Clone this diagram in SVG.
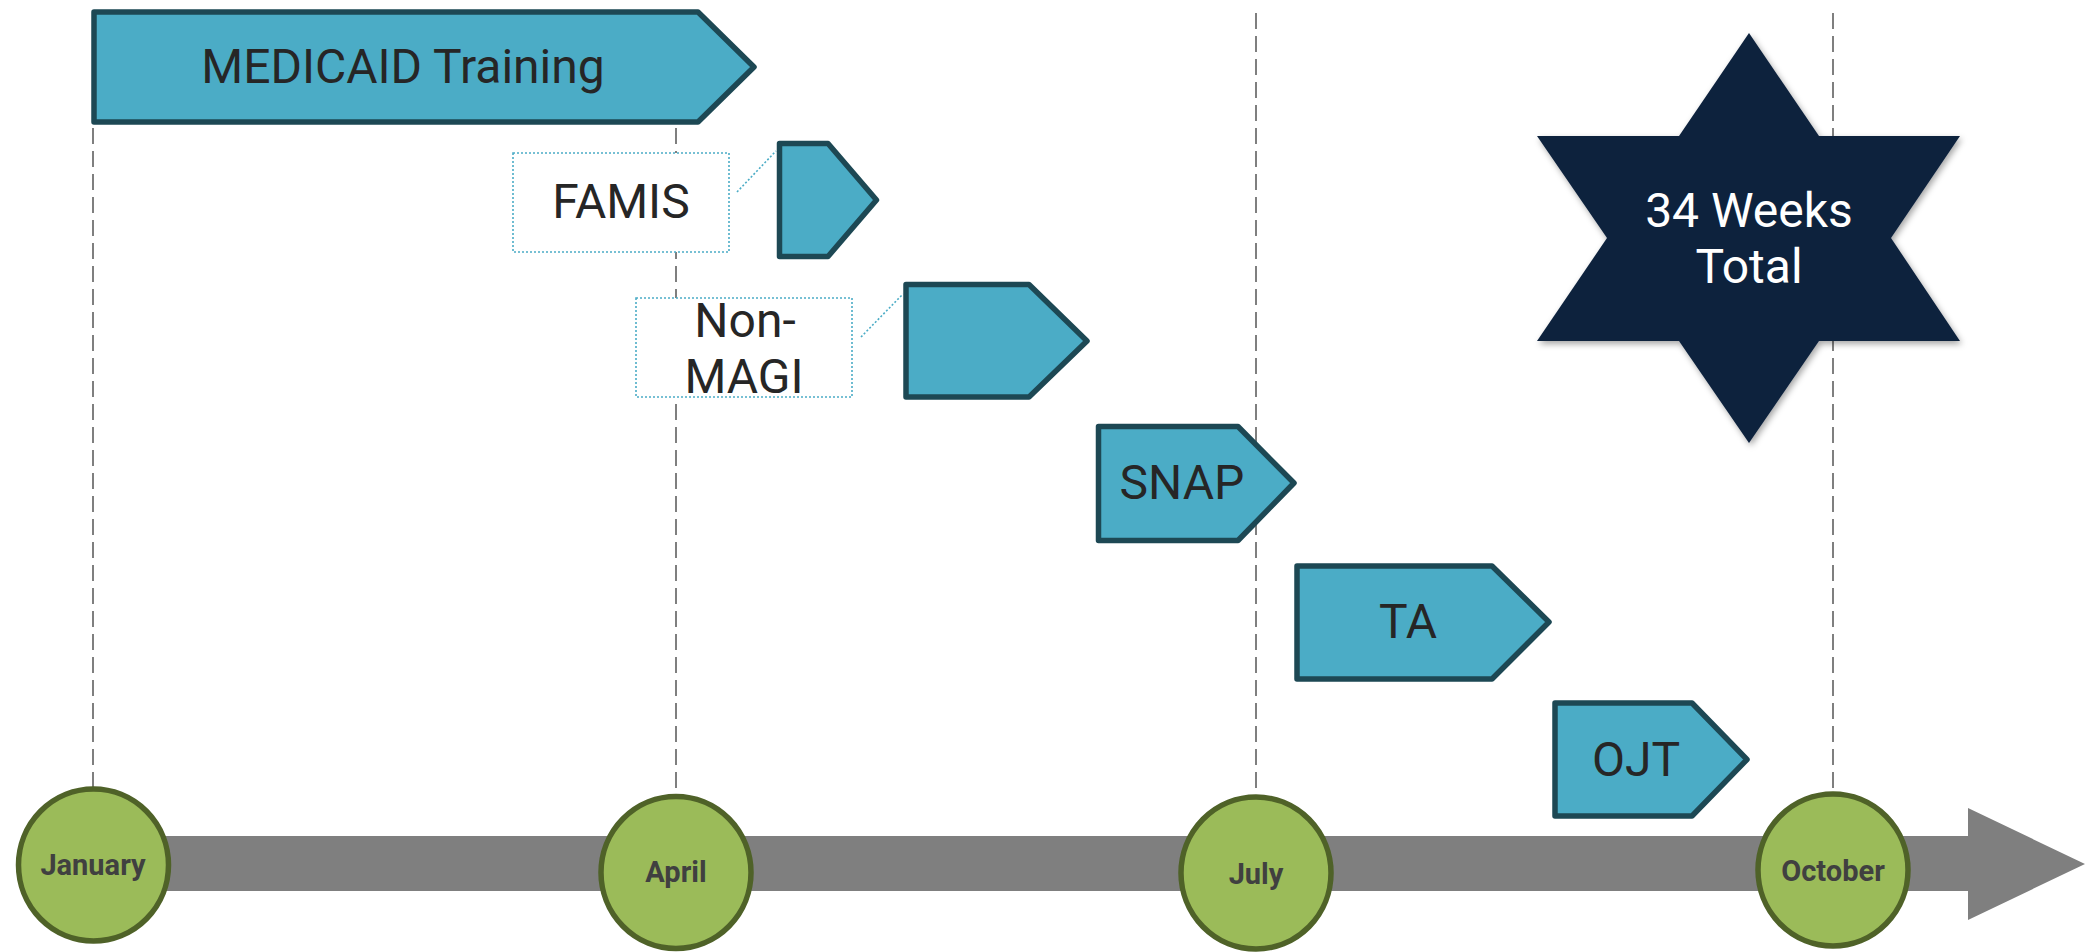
<svg xmlns="http://www.w3.org/2000/svg" width="2087" height="952" viewBox="0 0 2087 952">
<style>
.grid{stroke:#7F7F7F;stroke-width:2;stroke-dasharray:16 7;fill:none}
.phase{fill:#4BACC6;stroke:#1D4854;stroke-width:5.5;stroke-linejoin:round}
.lbl{font-family:Roboto,"Noto Sans",sans-serif;font-size:48px;fill:#262626;text-anchor:middle}
.callout{fill:#FFFFFF;stroke:#4BACC6;stroke-width:1.6;stroke-dasharray:2 2}
.leader{stroke:#4BACC6;stroke-width:1.6;stroke-dasharray:2 2;fill:none}
.month{fill:#9BBB59;stroke:#4F6228;stroke-width:5.5}
.mtxt{font-family:Roboto,"Noto Sans",sans-serif;font-size:29px;font-weight:bold;fill:#404040;text-anchor:middle}
.star{fill:#10243E}
.stxt{font-family:Roboto,"Noto Sans",sans-serif;font-size:48px;fill:#FFFFFF;text-anchor:middle}
</style>
<defs>
<filter id="shadow" x="-10%" y="-10%" width="130%" height="130%">
<feDropShadow dx="2" dy="3" stdDeviation="3" flood-color="#000000" flood-opacity="0.35"/>
</filter>
</defs>
<rect width="2087" height="952" fill="#FFFFFF"/>
<g id="gridlines">
<line class="grid" x1="93" y1="13" x2="93" y2="787"/>
<line class="grid" x1="676" y1="13" x2="676" y2="794"/>
<line class="grid" x1="1256" y1="13" x2="1256" y2="795"/>
<line class="grid" x1="1833" y1="13" x2="1833" y2="792"/>
</g>
<g id="timeline">
<polygon points="92,836 1968,836 1968,808 2085,864 1968,920 1968,891 92,891" fill="#7F7F7F"/>
</g>
<g id="connectors">
<line class="leader" x1="737" y1="192" x2="776" y2="151"/>
<line class="leader" x1="861" y1="337" x2="903" y2="294"/>
</g>
<g id="medicaid">
<polygon class="phase" points="94,12 698,12 754,67 698,122 94,122"/>
<text class="lbl" x="403" y="83">MEDICAID Training</text>
</g>
<g id="famis">
<rect class="callout" x="513" y="153" width="216" height="99"/>
<text class="lbl" x="621" y="218">FAMIS</text>
<polygon class="phase" points="779.5,143.5 828,143.5 876.5,200 828,256.5 779.5,256.5"/>
</g>
<g id="nonmagi">
<rect class="callout" x="636" y="298" width="216" height="99"/>
<text class="lbl" x="745" y="337">Non-</text>
<text class="lbl" x="744" y="393">MAGI</text>
<polygon class="phase" points="906,284.5 1029,284.5 1087,341 1029,397 906,397"/>
</g>
<g id="snap">
<polygon class="phase" points="1098.5,426.5 1238,426.5 1294,483 1238,540.5 1098.5,540.5"/>
<text class="lbl" x="1182" y="499">SNAP</text>
</g>
<g id="ta">
<polygon class="phase" points="1297,566 1492,566 1549,622 1492,679 1297,679"/>
<text class="lbl" x="1408" y="638">TA</text>
</g>
<g id="ojt">
<polygon class="phase" points="1555,703 1692,703 1747,759.5 1692,816 1555,816"/>
<text class="lbl" x="1636" y="776">OJT</text>
</g>
<g id="total">
<polygon class="star" filter="url(#shadow)" points="1749,33 1819,136 1960,136 1891,238 1960,341 1819,341 1749,443 1679,341 1537,341 1607,238 1537,136 1679,136"/>
<text class="stxt" x="1749" y="227">34 Weeks</text>
<text class="stxt" x="1749" y="283">Total</text>
</g>
<g id="january">
<ellipse class="month" cx="93.5" cy="865" rx="75" ry="76"/>
<text class="mtxt" x="93" y="875">January</text>
</g>
<g id="april">
<ellipse class="month" cx="676" cy="872.5" rx="75" ry="76"/>
<text class="mtxt" x="676" y="882">April</text>
</g>
<g id="july">
<ellipse class="month" cx="1256" cy="873" rx="75" ry="76"/>
<text class="mtxt" x="1256" y="884">July</text>
</g>
<g id="october">
<ellipse class="month" cx="1833" cy="870" rx="75" ry="76"/>
<text class="mtxt" x="1833" y="881">October</text>
</g>
</svg>
